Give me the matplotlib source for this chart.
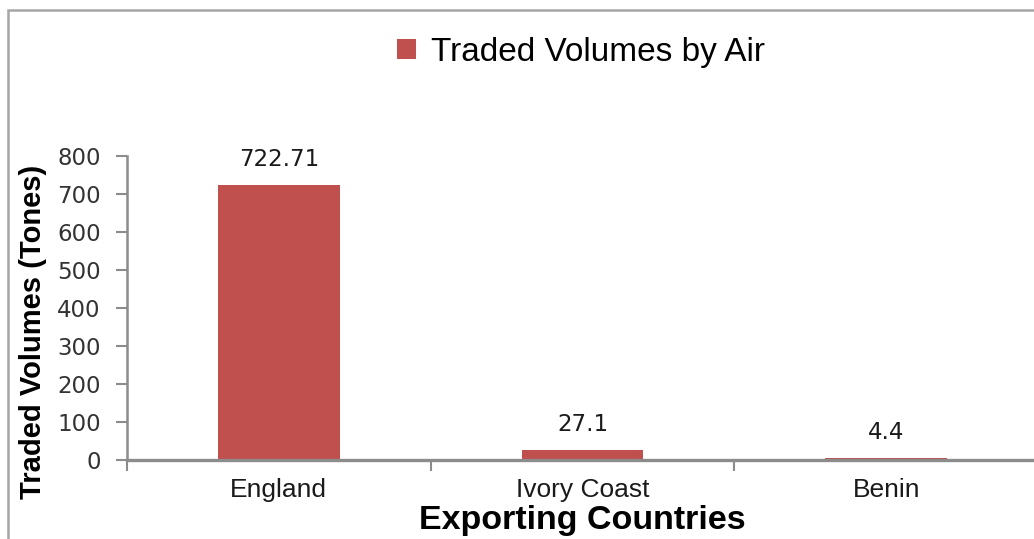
import matplotlib
matplotlib.use("Agg")
import matplotlib.pyplot as plt
from matplotlib.patches import Rectangle
from matplotlib.ticker import FixedLocator, NullFormatter

countries = ["England", "Ivory Coast", "Benin"]
volumes = [722.71, 27.1, 4.4]
value_labels = ["722.71", "27.1", "4.4"]
y_ticks = [0, 100, 200, 300, 400, 500, 600, 700, 800]

W, H = 1034, 539
fig = plt.figure(figsize=(W / 100, H / 100), dpi=100)

# outer chart border (partly cut off like the reference)
fig.patches.append(Rectangle((8 / W, -0.2), 1.2, (H - 10) / H + 0.2,
                             transform=fig.transFigure, fill=False,
                             edgecolor="#a6a6a6", linewidth=1.8))

ax_left = 127 / W
ax_w = (1038 - 127) / W
ax_bottom = 1 - 460 / H
ax_h = (460 - 156) / H
ax = fig.add_axes([ax_left, ax_bottom, ax_w, ax_h])

x = list(range(len(countries)))
bars = ax.bar(x, volumes, width=0.40, color="#C0504D", label="Traded Volumes by Air", zorder=1)

ax.set_xlim(-0.5, 2.5)
ax.set_ylim(0, 800)
ax.set_yticks(y_ticks)
ax.tick_params(axis="y", direction="out", length=8, width=1.5, color="#8c8c8c",
               labelsize=16.5, labelcolor="#333333", pad=11)
for lab in ax.get_yticklabels():
    lab.set_fontfamily("DejaVu Sans")

ax.xaxis.set_major_locator(FixedLocator([-0.5, 0.5, 1.5, 2.5]))
ax.xaxis.set_major_formatter(NullFormatter())
ax.xaxis.set_minor_locator(FixedLocator(x))
ax.set_xticklabels(countries, minor=True)
ax.tick_params(axis="x", which="major", direction="out", length=8, width=1.5, color="#8c8c8c")
ax.tick_params(axis="x", which="minor", length=0, pad=13, labelsize=19, labelcolor="#1a1a1a")
for lab in ax.get_xticklabels(minor=True):
    lab.set_fontfamily("Liberation Sans")

for s in ["top", "right"]:
    ax.spines[s].set_visible(False)
ax.spines["left"].set_color("#8c8c8c")
ax.spines["left"].set_linewidth(1.8)
ax.spines["bottom"].set_color("#8c8c8c")
ax.spines["bottom"].set_linewidth(2.4)

for xi, v, t in zip(x, volumes, value_labels):
    ax.annotate(t, (xi, v), xytext=(0, 10), textcoords="offset points",
                ha="center", va="bottom", fontsize=16.5, color="#1a1a1a",
                family="DejaVu Sans")

ax.set_ylabel("Traded Volumes (Tones)", fontsize=21, fontweight="bold",
              family="Liberation Sans", color="black")
ax.yaxis.set_label_coords(-0.088, 0.42)
ax.set_xlabel("Exporting Countries", fontsize=24.5, fontweight="bold",
              family="Liberation Sans", color="black", labelpad=2)

leg = fig.legend(handles=[bars], labels=["Traded Volumes by Air"],
                 loc="center", bbox_to_anchor=(581 / W, 1 - 52 / H),
                 frameon=False, prop={"family": "Liberation Sans", "size": 24},
                 handlelength=0.55, handleheight=0.55, handletextpad=0.45)

fig.savefig("out.png", dpi=100)
